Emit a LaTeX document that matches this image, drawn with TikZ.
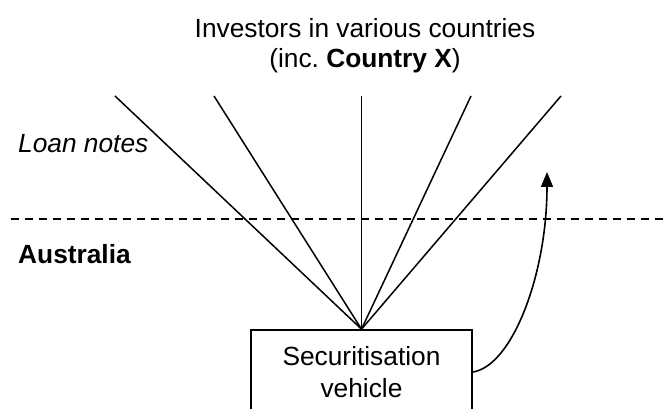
\documentclass[tikz,border=0pt]{standalone}
\usepackage{fontspec}
\setmainfont{Liberation Sans}
\usetikzlibrary{arrows.meta}
\frenchspacing
\begin{document}
\begin{tikzpicture}[x=1pt,y=-1pt,
  every node/.style={font=\fontsize{26.3}{31.5}\selectfont, inner sep=0pt},
  ray/.style={line width=1.5pt},
  border/.style={dashed, line width=1.4pt, dash pattern=on 8pt off 6pt},
  vehicle/.style={draw, line width=1.7pt, minimum width=221pt, minimum height=84pt, align=center},
  flow/.style={line width=1.6pt, -{Triangle[length=15pt,width=12pt]}}]
\useasboundingbox (0,0) rectangle (665,409);
\clip (0,0) rectangle (665,409);

% headings
\node[anchor=base] (inv1) at (365,38) {Investors in various countries};
\node[anchor=base] (inv2) at (365,68) {(inc.\ \textbf{Country X})};
\node[anchor=base west] (notes) at (18,153) {\itshape Loan notes};
\node[anchor=base west] (aus) at (18,264) {\bfseries Australia};

% the vehicle
\node[vehicle] (sv) at (361.5,372) {Securitisation\\vehicle};

% loan notes fanning out to investors
\coordinate (i1) at (115,96);
\coordinate (i2) at (214,96);
\coordinate (i3) at (361.5,96);
\coordinate (i4) at (471,96);
\coordinate (i5) at (561,96);
\foreach \t in {i1,i2,i3,i4,i5}
  \draw[ray] (sv.north) -- (\t);

% border between Australia and abroad
\coordinate (bl) at (11,219);
\coordinate (br) at (665,219);
\draw[border] (bl) -- (br);

% payment flow back out
\coordinate (out) at (547,172);
\draw[flow] (sv.east) .. controls (512,366) and (547,275) .. (out);
\end{tikzpicture}
\end{document}
